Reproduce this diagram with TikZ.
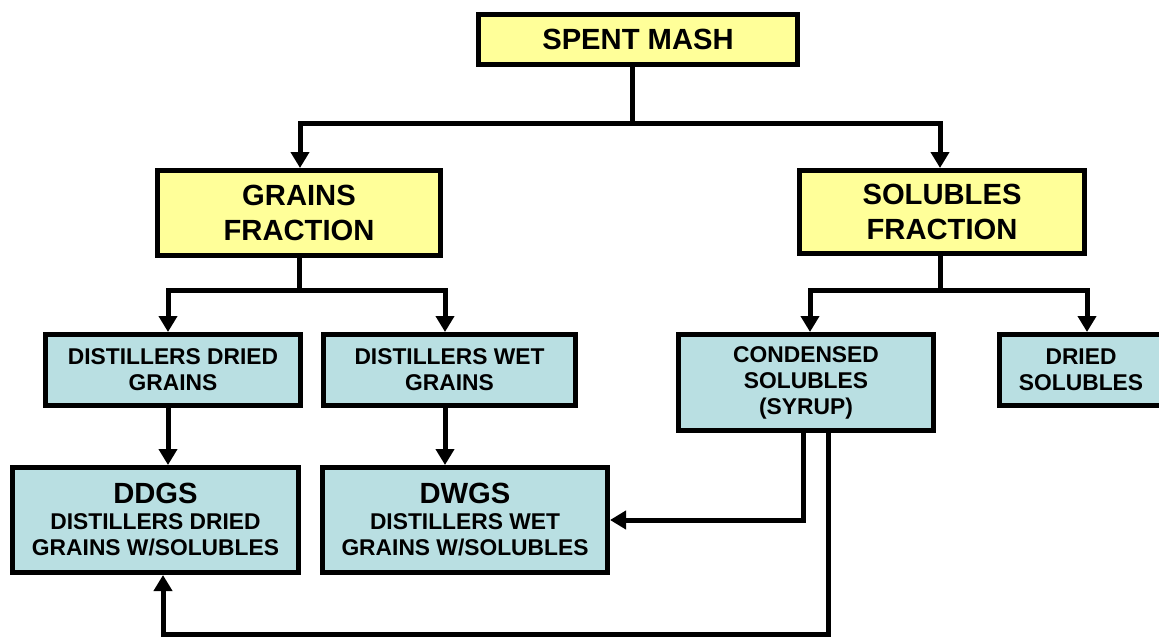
\documentclass[tikz,border=0pt]{standalone}
\usepackage{fontspec}
\setmainfont{Liberation Sans}
\usetikzlibrary{arrows.meta}
\definecolor{paleyellow}{RGB}{255,255,153}
\definecolor{paleblue}{RGB}{185,223,226}
\tikzset{
  yellowbox/.style={draw, line width=2.5pt, fill=paleyellow, align=center, inner sep=0pt,
    font=\bfseries\fontsize{14.6}{17.2}\selectfont},
  bluebox/.style={draw, line width=2.5pt, fill=paleblue, align=center, inner sep=0pt,
    font=\bfseries\fontsize{11.4}{13}\selectfont},
  link/.style={line width=2.5pt},
  arr/.style={link, -{Triangle[length=8pt,width=9pt]}}
}
\begin{document}
\begin{tikzpicture}[x=0.5pt,y=-0.5pt]
\useasboundingbox (0,0) rectangle (1159,637);

% boxes
\node[yellowbox, minimum width=159.5pt, minimum height=25pt] (mash) at (638,39.5) {SPENT MASH};
\node[yellowbox, minimum width=141.5pt, minimum height=42.5pt] (grains) at (299,213) {GRAINS\\FRACTION};
\node[yellowbox, minimum width=142.5pt, minimum height=41.5pt] (solubles) at (942,212) {SOLUBLES\\FRACTION};

\node[bluebox, minimum width=127.5pt, minimum height=35.5pt] (ddg) at (173,370) {DISTILLERS DRIED\\GRAINS};
\node[bluebox, minimum width=126pt, minimum height=35.5pt] (dwg) at (449.5,370) {DISTILLERS WET\\GRAINS};
\node[bluebox, minimum width=127.5pt, minimum height=48pt] (syrup) at (806,382.5) {CONDENSED\\SOLUBLES\\(SYRUP)};
\node[bluebox, minimum width=81.5pt, minimum height=35.5pt] (dsol) at (1081,370) {DRIED\\SOLUBLES};

\node[bluebox, minimum width=143pt, minimum height=52.5pt] (ddgs) at (155.5,520)
  {{\fontsize{14.6}{15}\selectfont DDGS}\\DISTILLERS DRIED\\GRAINS W/SOLUBLES};
\node[bluebox, minimum width=142.5pt, minimum height=52.5pt] (dwgs) at (465,520)
  {{\fontsize{14.6}{15}\selectfont DWGS}\\DISTILLERS WET\\GRAINS W/SOLUBLES};

% branch points and columns
\coordinate (split1) at (632,123);
\coordinate (split2) at (299,290);
\coordinate (split3) at (940,290);
\coordinate (colA) at (168,0);
\coordinate (colB) at (445,0);
\coordinate (colC) at (810,0);
\coordinate (colD) at (1087,0);
\coordinate (colE) at (163,0);
\coordinate (syrA) at (803,0);
\coordinate (syrB) at (828,634);

% connectors
\draw[link] (mash.south -| split1) -- (split1);
\draw[arr] (split1) -| (grains.north -| 300,0);
\draw[arr] (split1) -| (solubles.north -| split3);

\draw[link] (grains.south -| split2) -- (split2);
\draw[arr] (split2) -| (ddg.north -| colA);
\draw[arr] (split2) -| (dwg.north -| colB);

\draw[link] (solubles.south -| split3) -- (split3);
\draw[arr] (split3) -| (syrup.north -| colC);
\draw[arr] (split3) -| (dsol.north -| colD);

\draw[arr] (ddg.south -| colA) -- (ddgs.north -| colA);
\draw[arr] (dwg.south -| colB) -- (dwgs.north -| colB);

\draw[arr] (syrup.south -| syrA) |- (dwgs.east);
\draw[arr] (syrup.south -| syrB) -- (syrB) -| (ddgs.south -| colE);
\end{tikzpicture}
\end{document}
